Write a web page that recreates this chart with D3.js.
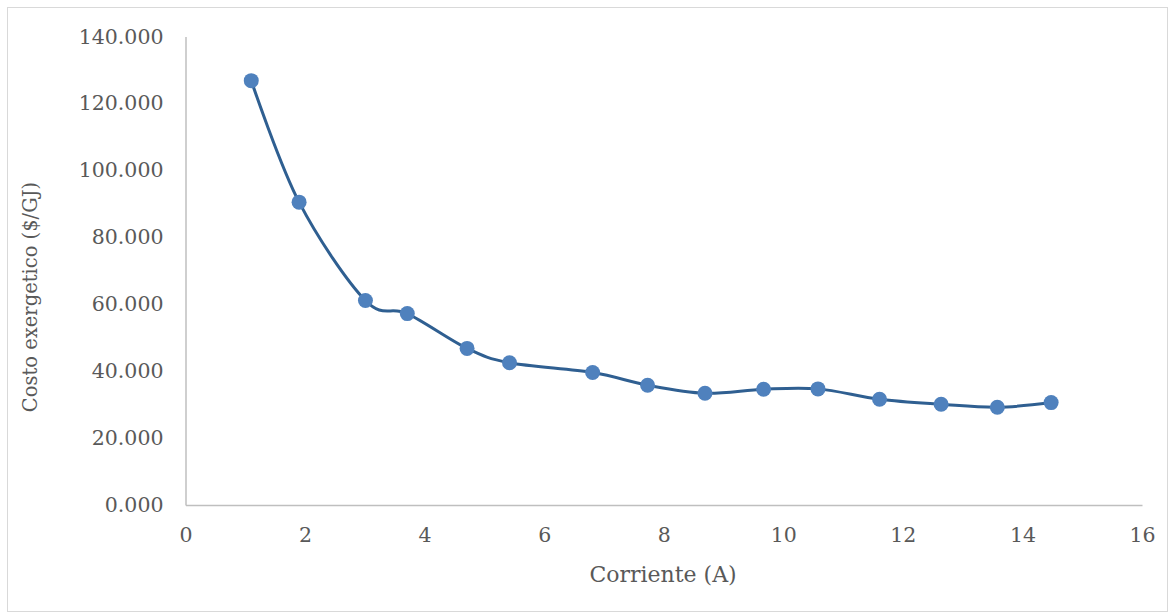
<!DOCTYPE html>
<html>
<head>
<meta charset="utf-8">
<script src="https://cdn.jsdelivr.net/npm/d3@7"></script>
<style>
  body { margin: 0; background: #fff; }
  text { font-family: "DejaVu Serif", "Liberation Serif", serif; fill: #595959; }
</style>
</head>
<body>
<svg width="1175" height="615"></svg>
<script>
// corriente (A) vs costo exergetico ($/GJ)
var corriente = [1.10, 1.90, 3.01, 3.71, 4.71, 5.42, 6.81, 7.73, 8.69, 9.67, 10.58, 11.61, 12.64, 13.58, 14.48];
var costo = [126.8, 90.5, 61.1, 57.2, 46.8, 42.5, 39.6, 35.8, 33.4, 34.6, 34.7, 31.6, 30.1, 29.2, 30.6];
var xTicks = [0, 2, 4, 6, 8, 10, 12, 14, 16];
var yTicks = [0, 20, 40, 60, 80, 100, 120, 140];

var svg = d3.select("svg");

// outer chart border
svg.append("rect")
    .attr("x", 7.5).attr("y", 7.5)
    .attr("width", 1160).attr("height", 604)
    .attr("fill", "none")
    .attr("stroke", "#d9d9d9");

var x = d3.scaleLinear().domain([0, 16]).range([185.5, 1142]);
var y = d3.scaleLinear().domain([0, 140]).range([505, 36.5]);

var xAxis = svg.append("g")
    .attr("transform", "translate(0," + y(0) + ")")
    .call(d3.axisBottom(x).tickValues(xTicks).tickSize(0).tickPadding(22).tickFormat(d3.format("d")));

var yAxis = svg.append("g")
    .attr("transform", "translate(" + x(0) + ",0)")
    .call(d3.axisLeft(y).tickValues(yTicks).tickSize(0).tickPadding(22).tickFormat(d3.format(".3f")));

[xAxis, yAxis].forEach(function(a) {
  a.select(".domain").attr("stroke", "#bfbfbf").attr("stroke-width", 1.5);
  a.selectAll("text").attr("font-size", 20.5).attr("fill", "#595959")
    .attr("font-family", "DejaVu Serif, serif");
});

var pts = corriente.map(function(d, i) { return [d, costo[i]]; });

var line = d3.line()
    .x(function(d) { return x(d[0]); })
    .y(function(d) { return y(d[1]); })
    .curve(d3.curveCardinal.tension(0));

svg.append("path")
    .datum(pts)
    .attr("d", line)
    .attr("fill", "none")
    .attr("stroke", "#2F5F91")
    .attr("stroke-width", 3);

svg.selectAll("circle.pt")
    .data(pts)
    .enter().append("circle")
    .attr("class", "pt")
    .attr("cx", function(d) { return x(d[0]); })
    .attr("cy", function(d) { return y(d[1]); })
    .attr("r", 7.5)
    .attr("fill", "#4F81BD");

// axis titles
svg.append("text")
    .attr("x", 663).attr("y", 582)
    .attr("text-anchor", "middle")
    .attr("font-size", 22)
    .text("Corriente (A)");

svg.append("text")
    .attr("transform", "translate(37,297) rotate(-90)")
    .attr("text-anchor", "middle")
    .attr("font-size", 19.5)
    .text("Costo exergetico ($/GJ)");
</script>
</body>
</html>
